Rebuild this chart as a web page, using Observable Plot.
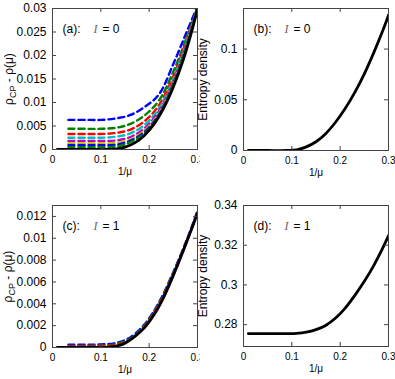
<!DOCTYPE html>
<html><head><meta charset="utf-8">
<script src="https://cdn.jsdelivr.net/npm/d3@7"></script>
<script src="https://cdn.jsdelivr.net/npm/@observablehq/plot@0.6"></script>
<style>
body{margin:0;background:#fff;}
#wrap{position:relative;width:395px;height:379px;}
.p{position:absolute;}
</style></head><body><div id="wrap"></div>
<script>
// ---- data ----
const xTicks = [0, 0.1, 0.2, 0.3];
const xSolid = [0.01, 0.05, 0.09, 0.11, 0.13, 0.15, 0.17, 0.19, 0.21, 0.23, 0.25, 0.27, 0.29, 0.3];
const rhoI0 = [0, 0, 0, 0, 0.0001, 0.0005, 0.0014, 0.0030, 0.0054, 0.0088, 0.0133, 0.0189, 0.0259, 0.030];
const entI0 = [0, 0, 0, 0.0006, 0.0036, 0.0086, 0.0166, 0.0276, 0.0411, 0.0571, 0.0756, 0.0970, 0.1205, 0.1335];
const rhoI1 = [0, 0, 0, 0, 0.0001, 0.0004, 0.0010, 0.0018, 0.0030, 0.0046, 0.0066, 0.0088, 0.0111, 0.0123];
const entI1 = [0.2755, 0.2755, 0.2755, 0.2756, 0.2762, 0.2775, 0.2796, 0.2832, 0.2882, 0.2946, 0.3018, 0.3100, 0.3195, 0.3248];

const xDash = [0.033, 0.07, 0.1, 0.13, 0.16, 0.19, 0.22, 0.25, 0.28, 0.3];
const dashColorsI0 = ["#0000ff", "#008000", "#ff0000", "#00bfbf", "#bf00bf", "#bfbf00", "#0000ff", "#008000"];
const dashI0 = [
  [0.0063, 0.0063, 0.0063, 0.0066, 0.0073, 0.0090, 0.0117, 0.0182, 0.0256, 0.0305],
  [0.0044, 0.0044, 0.0044, 0.0046, 0.0054, 0.0072, 0.0104, 0.0166, 0.0245, 0.0302],
  [0.0033, 0.0033, 0.0033, 0.0035, 0.0042, 0.0060, 0.0094, 0.0156, 0.0240, 0.0301],
  [0.0025, 0.0025, 0.0025, 0.0027, 0.0034, 0.0052, 0.0087, 0.0150, 0.0236, 0.0300],
  [0.0018, 0.0018, 0.0018, 0.0019, 0.0026, 0.0045, 0.0081, 0.0145, 0.0233, 0.0300],
  [0.0013, 0.0013, 0.0013, 0.0014, 0.0021, 0.0040, 0.0077, 0.0142, 0.0231, 0.0300],
  [0.0009, 0.0009, 0.0009, 0.0010, 0.0018, 0.0037, 0.0074, 0.0140, 0.0229, 0.0300],
  [0.0005, 0.0005, 0.0005, 0.0006, 0.0015, 0.0034, 0.0072, 0.0138, 0.0228, 0.0300]
];
const dashColorsI1 = ["#0000ff", "#008000", "#ff0000"];
const dashI1 = [
  [0.00025, 0.00025, 0.00028, 0.0004, 0.0009, 0.0021, 0.0041, 0.0069, 0.0101, 0.0125],
  [0.00015, 0.00015, 0.00018, 0.0003, 0.0008, 0.0020, 0.0040, 0.0068, 0.0100, 0.0124],
  [0.0001, 0.0001, 0.00012, 0.0002, 0.0007, 0.0019, 0.0039, 0.0067, 0.0100, 0.0124]
];

const yTicksA = [0, 0.005, 0.01, 0.015, 0.02, 0.025, 0.03];
const yTicksB = [0, 0.05, 0.1];
const yTicksC = [0, 0.002, 0.004, 0.006, 0.008, 0.01, 0.012];
const yTicksD = [0.28, 0.3, 0.32, 0.34];

const rhoLabel = "ρCP - ρ(μ)";
const entLabel = "Entropy density";
const xLabel = "1/μ";

// ---- drawing ----
const fmt = d3.format("~g");
const FONT = "'Liberation Sans', Arial, sans-serif";

function panel(o) {
  const [mt, mr, mb, ml] = o.margin;
  const iw = o.width - ml - mr, ih = o.height - mt - mb;
  const marks = [];
  (o.dashes || []).forEach((ys, i) => {
    marks.push(Plot.line(xDash.map((x, j) => ({x, y: ys[j]})), {
      x: "x", y: "y", stroke: o.colors[i], strokeWidth: 2.4,
      strokeDasharray: "6,4", curve: "catmull-rom", clip: true
    }));
  });
  marks.push(Plot.line(xSolid.map((x, j) => ({x, y: o.solid[j]})), {
    x: "x", y: "y", stroke: "black", strokeWidth: 2.8, curve: "catmull-rom", clip: true
  }));
  marks.push(Plot.frame({stroke: "#444"}));
  marks.push(Plot.tickX(xTicks, {x: d => d, insetTop: ih - 4, stroke: "#444"}));
  marks.push(Plot.tickX(xTicks, {x: d => d, insetBottom: ih - 4, stroke: "#444"}));
  marks.push(Plot.tickY(o.yTicks, {y: d => d, insetRight: iw - 4, stroke: "#444"}));
  marks.push(Plot.tickY(o.yTicks, {y: d => d, insetLeft: iw - 4, stroke: "#444"}));
  marks.push(Plot.axisX(xTicks, {tickSize: 0, tickPadding: 6, tickFormat: fmt,
    label: xLabel, labelAnchor: "center", labelOffset: 25, labelArrow: "none"}));
  marks.push(Plot.axisY(o.yTicks, {tickSize: 0, tickPadding: 6, tickFormat: fmt,
    label: o.yLabel, labelAnchor: "center", labelOffset: o.yLabelOffset, labelArrow: "none",
    fontSize: 12}));
  marks.push(Plot.text([o.tag], {text: d => d, frameAnchor: "top-left", dx: 10, dy: 21,
    textAnchor: "start", lineAnchor: "middle", fontSize: 12}));
  marks.push(Plot.text(["I"], {text: d => d, frameAnchor: "top-left", dx: 41, dy: 21,
    textAnchor: "start", lineAnchor: "middle", fontSize: 12, fontStyle: "italic",
    fontFamily: "'Liberation Serif', 'DejaVu Serif', serif", fill: "#666"}));
  marks.push(Plot.text([o.ival], {text: d => d, frameAnchor: "top-left", dx: 50, dy: 21,
    textAnchor: "start", lineAnchor: "middle", fontSize: 12}));
  const svg = Plot.plot({
    width: o.width, height: o.height,
    marginTop: mt, marginRight: mr, marginBottom: mb, marginLeft: ml,
    x: {domain: [0, 0.3]},
    y: {domain: o.yDomain},
    style: {fontFamily: FONT, fontSize: "10px", color: "black", background: "white", overflow: "visible"},
    marks
  });
  svg.classList.add("p");
  svg.style.left = o.left + "px";
  svg.style.top = o.top + "px";
  // subscript in the rho label
  d3.select(svg).selectAll("text").each(function () {
    if (this.textContent === rhoLabel) {
      const t = d3.select(this);
      t.text(null);
      t.append("tspan").text("ρ");
      t.append("tspan").attr("dy", "0.3em").attr("font-size", "9px").text("CP");
      t.append("tspan").attr("dy", "-0.25em").text(" - ρ(μ)");
    }
  });
  document.getElementById("wrap").appendChild(svg);
}

panel({left: 0, top: 0, width: 200, height: 190, margin: [8, 3, 41, 52],
  yDomain: [0, 0.03], yTicks: yTicksA, yLabel: rhoLabel, yLabelOffset: 48,
  tag: "(a):", ival: "= 0", solid: rhoI0, dashes: dashI0, colors: dashColorsI0});
panel({left: 200, top: 0, width: 195, height: 190, margin: [8, 7, 40, 43],
  yDomain: [0, 0.14], yTicks: yTicksB, yLabel: entLabel, yLabelOffset: 45,
  tag: "(b):", ival: "= 0", solid: entI0});
panel({left: 0, top: 190, width: 200, height: 189, margin: [15, 3, 32, 52],
  yDomain: [0, 0.013], yTicks: yTicksC, yLabel: rhoLabel, yLabelOffset: 49,
  tag: "(c):", ival: "= 1", solid: rhoI1, dashes: dashI1, colors: dashColorsI1});
panel({left: 200, top: 190, width: 195, height: 189, margin: [15, 7, 33, 43],
  yDomain: [0.269, 0.34], yTicks: yTicksD, yLabel: entLabel, yLabelOffset: 45,
  tag: "(d):", ival: "= 1", solid: entI1});
</script></body></html>
